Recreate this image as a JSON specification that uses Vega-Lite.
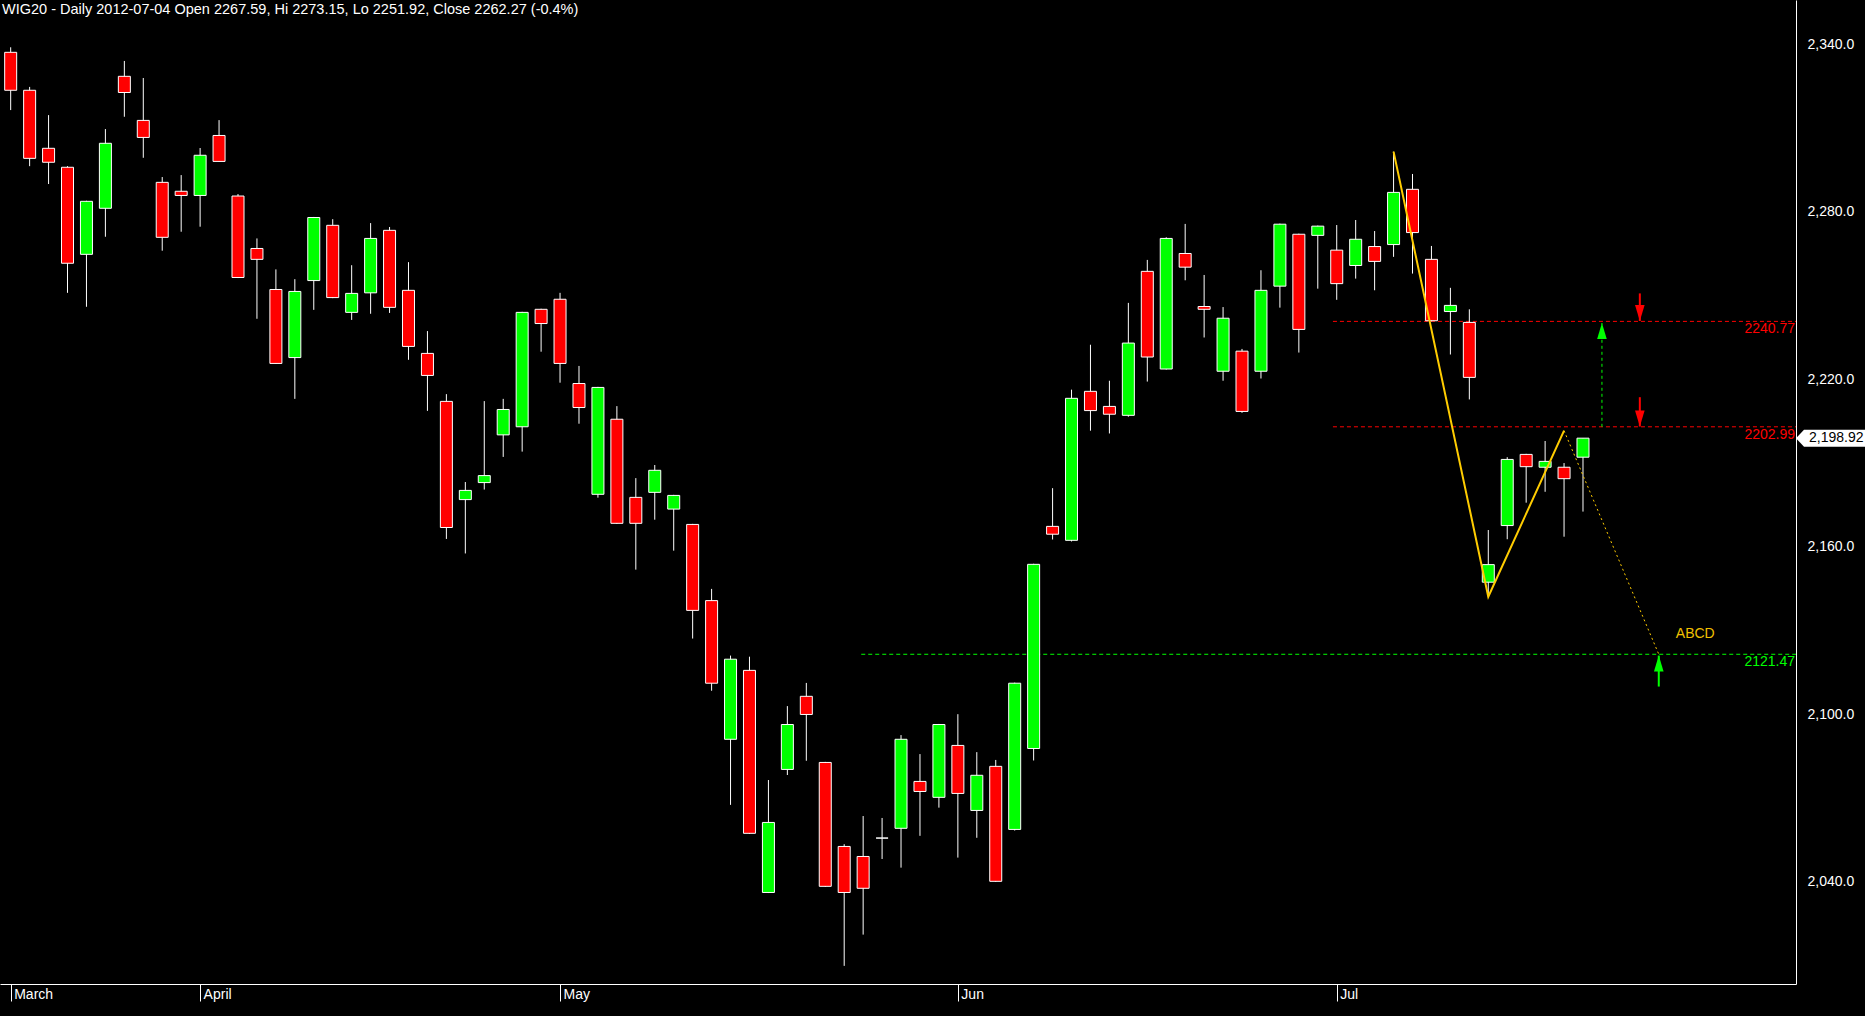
{
  "$schema": "https://vega.github.io/schema/vega-lite/v6.json",
  "width": 1796,
  "height": 984,
  "autosize": {"type": "none"},
  "padding": {"left": 0, "top": 0, "right": 69, "bottom": 32},
  "background": "#000000",
  "config": {"view": {"stroke": null}, "font": "Liberation Sans, Arial, sans-serif"},
  "title": {"text": "WIG20 - Daily 2012-07-04 Open 2267.59, Hi 2273.15, Lo 2251.92, Close 2262.27 (-0.4%)", "anchor": "start", "frame": "group", "orient": "top", "offset": -17, "dx": 2, "color": "#FFFFFF", "font": "Liberation Sans, Arial, sans-serif", "fontSize": 14.5, "fontWeight": "normal"},
  "datasets": {
    "candles": [
      {"date": "2012-03-19", "day": 0, "open": 2337.2, "high": 2339.0, "low": 2316.5, "close": 2323.6},
      {"date": "2012-03-20", "day": 1, "open": 2323.6, "high": 2324.8, "low": 2296.4, "close": 2299.2},
      {"date": "2012-03-21", "day": 2, "open": 2302.8, "high": 2314.7, "low": 2290.0, "close": 2297.8},
      {"date": "2012-03-22", "day": 3, "open": 2296.0, "high": 2296.4, "low": 2251.0, "close": 2261.6},
      {"date": "2012-03-23", "day": 4, "open": 2264.8, "high": 2284.0, "low": 2246.0, "close": 2283.8},
      {"date": "2012-03-26", "day": 5, "open": 2281.3, "high": 2309.7, "low": 2271.1, "close": 2304.6},
      {"date": "2012-03-27", "day": 6, "open": 2328.6, "high": 2334.1, "low": 2314.1, "close": 2322.8},
      {"date": "2012-03-28", "day": 7, "open": 2312.8, "high": 2328.0, "low": 2299.4, "close": 2306.7},
      {"date": "2012-03-29", "day": 8, "open": 2290.6, "high": 2292.5, "low": 2266.1, "close": 2270.9},
      {"date": "2012-03-30", "day": 9, "open": 2287.4, "high": 2293.2, "low": 2272.9, "close": 2285.9},
      {"date": "2012-04-02", "day": 10, "open": 2285.9, "high": 2302.9, "low": 2274.7, "close": 2300.3},
      {"date": "2012-04-03", "day": 11, "open": 2307.4, "high": 2312.9, "low": 2298.0, "close": 2298.1},
      {"date": "2012-04-04", "day": 12, "open": 2285.7, "high": 2286.4, "low": 2256.3, "close": 2256.5},
      {"date": "2012-04-05", "day": 13, "open": 2266.9, "high": 2270.5, "low": 2241.7, "close": 2263.0},
      {"date": "2012-04-10", "day": 14, "open": 2252.2, "high": 2259.4, "low": 2225.5, "close": 2225.7},
      {"date": "2012-04-11", "day": 15, "open": 2227.8, "high": 2255.9, "low": 2213.0, "close": 2251.5},
      {"date": "2012-04-12", "day": 16, "open": 2255.4, "high": 2278.2, "low": 2244.9, "close": 2278.0},
      {"date": "2012-04-13", "day": 17, "open": 2275.2, "high": 2277.4, "low": 2249.1, "close": 2249.3},
      {"date": "2012-04-16", "day": 18, "open": 2244.0, "high": 2260.9, "low": 2241.3, "close": 2250.8},
      {"date": "2012-04-17", "day": 19, "open": 2251.0, "high": 2276.0, "low": 2243.5, "close": 2270.5},
      {"date": "2012-04-18", "day": 20, "open": 2273.4, "high": 2274.6, "low": 2243.8, "close": 2245.8},
      {"date": "2012-04-19", "day": 21, "open": 2251.9, "high": 2262.0, "low": 2227.0, "close": 2231.8},
      {"date": "2012-04-20", "day": 22, "open": 2229.3, "high": 2237.3, "low": 2208.7, "close": 2221.4},
      {"date": "2012-04-23", "day": 23, "open": 2212.1, "high": 2214.7, "low": 2162.8, "close": 2166.9},
      {"date": "2012-04-24", "day": 24, "open": 2176.9, "high": 2183.2, "low": 2157.6, "close": 2180.2},
      {"date": "2012-04-25", "day": 25, "open": 2183.0, "high": 2212.2, "low": 2180.5, "close": 2185.5},
      {"date": "2012-04-26", "day": 26, "open": 2200.1, "high": 2213.0, "low": 2192.2, "close": 2209.2},
      {"date": "2012-04-27", "day": 27, "open": 2203.0, "high": 2244.2, "low": 2194.1, "close": 2244.0},
      {"date": "2012-04-30", "day": 28, "open": 2245.1, "high": 2245.3, "low": 2229.9, "close": 2240.0},
      {"date": "2012-05-02", "day": 29, "open": 2248.7, "high": 2251.0, "low": 2218.8, "close": 2225.7},
      {"date": "2012-05-04", "day": 30, "open": 2218.5, "high": 2224.8, "low": 2204.1, "close": 2209.9},
      {"date": "2012-05-07", "day": 31, "open": 2178.8, "high": 2217.3, "low": 2177.6, "close": 2217.1},
      {"date": "2012-05-08", "day": 32, "open": 2205.7, "high": 2210.4, "low": 2168.2, "close": 2168.4},
      {"date": "2012-05-09", "day": 33, "open": 2177.7, "high": 2184.6, "low": 2151.8, "close": 2168.4},
      {"date": "2012-05-10", "day": 34, "open": 2179.5, "high": 2189.3, "low": 2169.7, "close": 2187.4},
      {"date": "2012-05-11", "day": 35, "open": 2173.5, "high": 2178.6, "low": 2158.6, "close": 2178.4},
      {"date": "2012-05-14", "day": 36, "open": 2168.0, "high": 2168.2, "low": 2127.1, "close": 2137.2},
      {"date": "2012-05-15", "day": 37, "open": 2140.7, "high": 2144.9, "low": 2108.4, "close": 2111.1},
      {"date": "2012-05-16", "day": 38, "open": 2091.0, "high": 2121.0, "low": 2067.5, "close": 2119.7},
      {"date": "2012-05-17", "day": 39, "open": 2115.7, "high": 2120.6, "low": 2057.1, "close": 2057.3},
      {"date": "2012-05-18", "day": 40, "open": 2036.1, "high": 2076.4, "low": 2035.9, "close": 2061.2},
      {"date": "2012-05-21", "day": 41, "open": 2080.2, "high": 2102.9, "low": 2078.2, "close": 2096.3},
      {"date": "2012-05-22", "day": 42, "open": 2106.4, "high": 2111.2, "low": 2083.3, "close": 2099.9},
      {"date": "2012-05-23", "day": 43, "open": 2082.7, "high": 2082.9, "low": 2038.1, "close": 2038.3},
      {"date": "2012-05-24", "day": 44, "open": 2052.6, "high": 2053.4, "low": 2009.8, "close": 2036.1},
      {"date": "2012-05-25", "day": 45, "open": 2049.0, "high": 2063.5, "low": 2021.0, "close": 2037.6},
      {"date": "2012-05-28", "day": 46, "open": 2055.6, "high": 2062.8, "low": 2048.1, "close": 2055.6},
      {"date": "2012-05-29", "day": 47, "open": 2059.1, "high": 2092.5, "low": 2045.0, "close": 2091.0},
      {"date": "2012-05-30", "day": 48, "open": 2075.9, "high": 2085.7, "low": 2056.4, "close": 2072.3},
      {"date": "2012-05-31", "day": 49, "open": 2070.2, "high": 2096.5, "low": 2066.5, "close": 2096.3},
      {"date": "2012-06-01", "day": 50, "open": 2088.8, "high": 2100.0, "low": 2048.6, "close": 2071.6},
      {"date": "2012-06-04", "day": 51, "open": 2065.5, "high": 2086.4, "low": 2055.7, "close": 2078.1},
      {"date": "2012-06-05", "day": 52, "open": 2081.3, "high": 2083.6, "low": 2039.9, "close": 2040.1},
      {"date": "2012-06-06", "day": 53, "open": 2058.7, "high": 2111.3, "low": 2058.3, "close": 2111.1},
      {"date": "2012-06-08", "day": 54, "open": 2087.7, "high": 2153.9, "low": 2083.4, "close": 2153.7},
      {"date": "2012-06-11", "day": 55, "open": 2167.3, "high": 2181.0, "low": 2162.6, "close": 2164.5},
      {"date": "2012-06-12", "day": 56, "open": 2162.3, "high": 2216.3, "low": 2161.9, "close": 2213.2},
      {"date": "2012-06-13", "day": 57, "open": 2215.7, "high": 2232.4, "low": 2201.6, "close": 2208.8},
      {"date": "2012-06-14", "day": 58, "open": 2210.3, "high": 2219.5, "low": 2200.6, "close": 2207.5},
      {"date": "2012-06-15", "day": 59, "open": 2207.1, "high": 2247.4, "low": 2206.6, "close": 2233.0},
      {"date": "2012-06-18", "day": 60, "open": 2258.7, "high": 2262.8, "low": 2219.2, "close": 2228.0},
      {"date": "2012-06-19", "day": 61, "open": 2223.7, "high": 2270.9, "low": 2223.5, "close": 2270.5},
      {"date": "2012-06-20", "day": 62, "open": 2265.1, "high": 2275.7, "low": 2255.5, "close": 2260.2},
      {"date": "2012-06-21", "day": 63, "open": 2246.1, "high": 2257.4, "low": 2235.0, "close": 2245.1},
      {"date": "2012-06-22", "day": 64, "open": 2222.9, "high": 2245.9, "low": 2219.5, "close": 2241.9},
      {"date": "2012-06-25", "day": 65, "open": 2230.1, "high": 2230.9, "low": 2208.0, "close": 2208.5},
      {"date": "2012-06-26", "day": 66, "open": 2222.9, "high": 2259.1, "low": 2220.3, "close": 2251.9},
      {"date": "2012-06-27", "day": 67, "open": 2253.4, "high": 2275.8, "low": 2245.7, "close": 2275.6},
      {"date": "2012-06-28", "day": 68, "open": 2272.0, "high": 2272.2, "low": 2229.6, "close": 2237.9},
      {"date": "2012-06-29", "day": 69, "open": 2271.6, "high": 2275.1, "low": 2252.5, "close": 2274.9},
      {"date": "2012-07-02", "day": 70, "open": 2266.3, "high": 2275.3, "low": 2248.5, "close": 2254.3},
      {"date": "2012-07-03", "day": 71, "open": 2260.8, "high": 2277.1, "low": 2256.1, "close": 2270.2},
      {"date": "2012-07-04", "day": 72, "open": 2267.59, "high": 2273.15, "low": 2251.92, "close": 2262.27},
      {"date": "2012-07-05", "day": 73, "open": 2268.3, "high": 2301.6, "low": 2263.9, "close": 2287.0},
      {"date": "2012-07-06", "day": 74, "open": 2288.1, "high": 2293.6, "low": 2257.9, "close": 2272.6},
      {"date": "2012-07-09", "day": 75, "open": 2263.0, "high": 2267.8, "low": 2240.8, "close": 2241.0},
      {"date": "2012-07-10", "day": 76, "open": 2244.3, "high": 2252.8, "low": 2228.9, "close": 2246.5},
      {"date": "2012-07-11", "day": 77, "open": 2240.4, "high": 2245.1, "low": 2212.8, "close": 2220.7},
      {"date": "2012-07-12", "day": 78, "open": 2147.3, "high": 2166.0, "low": 2142.1, "close": 2153.6},
      {"date": "2012-07-13", "day": 79, "open": 2167.6, "high": 2192.1, "low": 2162.7, "close": 2191.3},
      {"date": "2012-07-16", "day": 80, "open": 2193.1, "high": 2193.3, "low": 2175.8, "close": 2188.7},
      {"date": "2012-07-17", "day": 81, "open": 2188.5, "high": 2197.9, "low": 2179.7, "close": 2190.6},
      {"date": "2012-07-18", "day": 82, "open": 2188.5, "high": 2190.0, "low": 2163.6, "close": 2184.4},
      {"date": "2012-07-19", "day": 83, "open": 2192.1, "high": 2198.92, "low": 2172.6, "close": 2198.92}
    ],
    "levels": [
      {"day": 69.8, "level": 2240.77, "side": "bear"},
      {"day": 69.8, "level": 2202.99, "side": "bear"},
      {"day": 44.9, "level": 2121.47, "side": "bull"}
    ],
    "pattern": [
      {"point": "A", "day": 73, "value": 2301.6},
      {"point": "B", "day": 78, "value": 2142.1},
      {"point": "C", "day": 82, "value": 2201.6},
      {"point": "D", "day": 87, "value": 2121.47}
    ],
    "arrows": [
      {"day": 86, "from": 2250.8, "to": 2240.9, "side": "bear", "kind": "signal"},
      {"day": 86, "from": 2213.6, "to": 2203.1, "side": "bear", "kind": "signal"},
      {"day": 84, "from": 2202.99, "to": 2240.2, "side": "bull", "kind": "projection"},
      {"day": 87, "from": 2109.9, "to": 2121.0, "side": "bull", "kind": "signal"}
    ],
    "labels": [
      {"day": 87.9, "value": 2128.7, "text": "ABCD"}
    ]
  },
  "encoding": {
    "x": {"field": "day", "type": "quantitative", "title": null,
      "scale": {"domain": [-0.3, 93.98], "nice": false, "zero": false},
      "axis": {"values": [0, 10, 29, 50, 70],
        "labelExpr": "datum.value == 0 ? 'March' : datum.value == 10 ? 'April' : datum.value == 29 ? 'May' : datum.value == 50 ? 'Jun' : 'Jul'",
        "grid": false, "domainColor": "#FFFFFF", "domainWidth": 1, "tickColor": "#FFFFFF", "tickWidth": 1, "tickSize": 17,
        "labelColor": "#FFFFFF", "labelAlign": "left", "labelBaseline": "middle", "labelPadding": -7, "labelOffset": 3,
        "labelFont": "Liberation Sans, Arial, sans-serif", "labelFontSize": 14, "labelOverlap": false, "labelFlush": false, "labelBound": false}
    }
  },
  "layer": [
    {
      "data": {"name": "levels"},
      "mark": {"type": "rule", "strokeDash": [4, 3], "strokeWidth": 1},
      "encoding": {
        "x2": {"value": {"expr": "width"}},
        "y": {"field": "level", "type": "quantitative", "title": null,
          "scale": {"domain": [2003.3, 2355.95], "nice": false, "zero": false},
          "axis": {"orient": "right", "values": [2040, 2100, 2160, 2220, 2280, 2340], "format": ",.1f", "grid": false, "ticks": false,
            "domainColor": "#FFFFFF", "domainWidth": 1, "labelColor": "#FFFFFF", "labelPadding": 11,
            "labelFont": "Liberation Sans, Arial, sans-serif", "labelFontSize": 14, "labelOverlap": false, "labelFlush": false}},
        "color": {"field": "side", "type": "nominal", "scale": {"domain": ["bear", "bull"], "range": ["#FF0000", "#00FF00"]}, "legend": null}
      }
    },
    {
      "data": {"name": "levels"},
      "mark": {"type": "text", "align": "right", "baseline": "top", "dx": -1, "dy": 1, "fontSize": 14, "font": "Liberation Sans, Arial, sans-serif"},
      "encoding": {
        "x": {"value": {"expr": "width"}},
        "y": {"field": "level", "type": "quantitative", "title": null},
        "text": {"field": "level", "type": "quantitative", "format": ".2f"},
        "color": {"field": "side", "type": "nominal", "scale": {"domain": ["bear", "bull"], "range": ["#FF0000", "#00FF00"]}, "legend": null}
      }
    },
    {
      "data": {"name": "candles"},
      "mark": {"type": "rule", "color": "#FFFFFF", "strokeWidth": 1},
      "encoding": {
        "y": {"field": "low", "type": "quantitative", "title": null},
        "y2": {"field": "high"}
      }
    },
    {
      "data": {"name": "candles"},
      "mark": {"type": "bar", "size": 12, "stroke": "#FFFFFF", "strokeWidth": 1},
      "encoding": {
        "y": {"field": "open", "type": "quantitative", "title": null},
        "y2": {"field": "close"},
        "fill": {"condition": {"test": "datum.close < datum.open", "value": "#FF0000"}, "value": "#00FF00"}
      }
    },
    {
      "data": {"name": "pattern"},
      "transform": [{"filter": "datum.point != 'D'"}],
      "mark": {"type": "line", "color": "#FFCC00", "strokeWidth": 2},
      "encoding": {
        "y": {"field": "value", "type": "quantitative", "title": null}
      }
    },
    {
      "data": {"name": "pattern"},
      "transform": [{"filter": "datum.point == 'C' || datum.point == 'D'"}],
      "mark": {"type": "line", "color": "#FFCC00", "strokeWidth": 1, "strokeDash": [2, 3]},
      "encoding": {
        "y": {"field": "value", "type": "quantitative", "title": null}
      }
    },
    {
      "data": {"name": "arrows"},
      "transform": [{"filter": "datum.kind == 'signal'"}],
      "mark": {"type": "rule", "strokeWidth": 2},
      "encoding": {
        "y": {"field": "from", "type": "quantitative", "title": null},
        "y2": {"field": "to"},
        "color": {"field": "side", "type": "nominal", "scale": {"domain": ["bear", "bull"], "range": ["#FF0000", "#00FF00"]}, "legend": null}
      }
    },
    {
      "data": {"name": "arrows"},
      "transform": [{"filter": "datum.kind == 'projection'"}],
      "mark": {"type": "rule", "strokeWidth": 1, "strokeDash": [3, 3]},
      "encoding": {
        "y": {"field": "from", "type": "quantitative", "title": null},
        "y2": {"field": "to"},
        "color": {"field": "side", "type": "nominal", "scale": {"domain": ["bear", "bull"], "range": ["#FF0000", "#00FF00"]}, "legend": null}
      }
    },
    {
      "data": {"name": "arrows"},
      "transform": [{"filter": "datum.to < datum.from"}],
      "mark": {"type": "point", "shape": "M-1.2,-4L1.2,-4L0,0Z", "size": 64, "filled": true, "opacity": 1},
      "encoding": {
        "y": {"field": "to", "type": "quantitative", "title": null},
        "color": {"field": "side", "type": "nominal", "scale": {"domain": ["bear", "bull"], "range": ["#FF0000", "#00FF00"]}, "legend": null}
      }
    },
    {
      "data": {"name": "arrows"},
      "transform": [{"filter": "datum.to > datum.from"}],
      "mark": {"type": "point", "shape": "M-1.2,4L1.2,4L0,0Z", "size": 64, "filled": true, "opacity": 1},
      "encoding": {
        "y": {"field": "to", "type": "quantitative", "title": null},
        "color": {"field": "side", "type": "nominal", "scale": {"domain": ["bear", "bull"], "range": ["#FF0000", "#00FF00"]}, "legend": null}
      }
    },
    {
      "data": {"name": "labels"},
      "mark": {"type": "text", "align": "left", "baseline": "middle", "color": "#F0C000", "fontSize": 14, "font": "Liberation Sans, Arial, sans-serif"},
      "encoding": {
        "y": {"field": "value", "type": "quantitative", "title": null},
        "text": {"field": "text", "type": "nominal"}
      }
    },
    {
      "data": {"name": "candles"},
      "transform": [{"filter": "datum.day == 83"}],
      "mark": {"type": "point", "shape": "M0,0L8,-8.5L70,-8.5L70,8.5L8,8.5Z", "size": 4, "filled": true, "opacity": 1, "color": "#FFFFFF"},
      "encoding": {
        "x": {"value": {"expr": "width"}},
        "y": {"field": "close", "type": "quantitative", "title": null}
      }
    },
    {
      "data": {"name": "candles"},
      "transform": [{"filter": "datum.day == 83"}],
      "mark": {"type": "text", "align": "left", "baseline": "middle", "dx": 13, "color": "#000000", "fontSize": 14, "font": "Liberation Sans, Arial, sans-serif"},
      "encoding": {
        "x": {"value": {"expr": "width"}},
        "y": {"field": "close", "type": "quantitative", "title": null},
        "text": {"field": "close", "type": "quantitative", "format": ",.2f"}
      }
    }
  ]
}
